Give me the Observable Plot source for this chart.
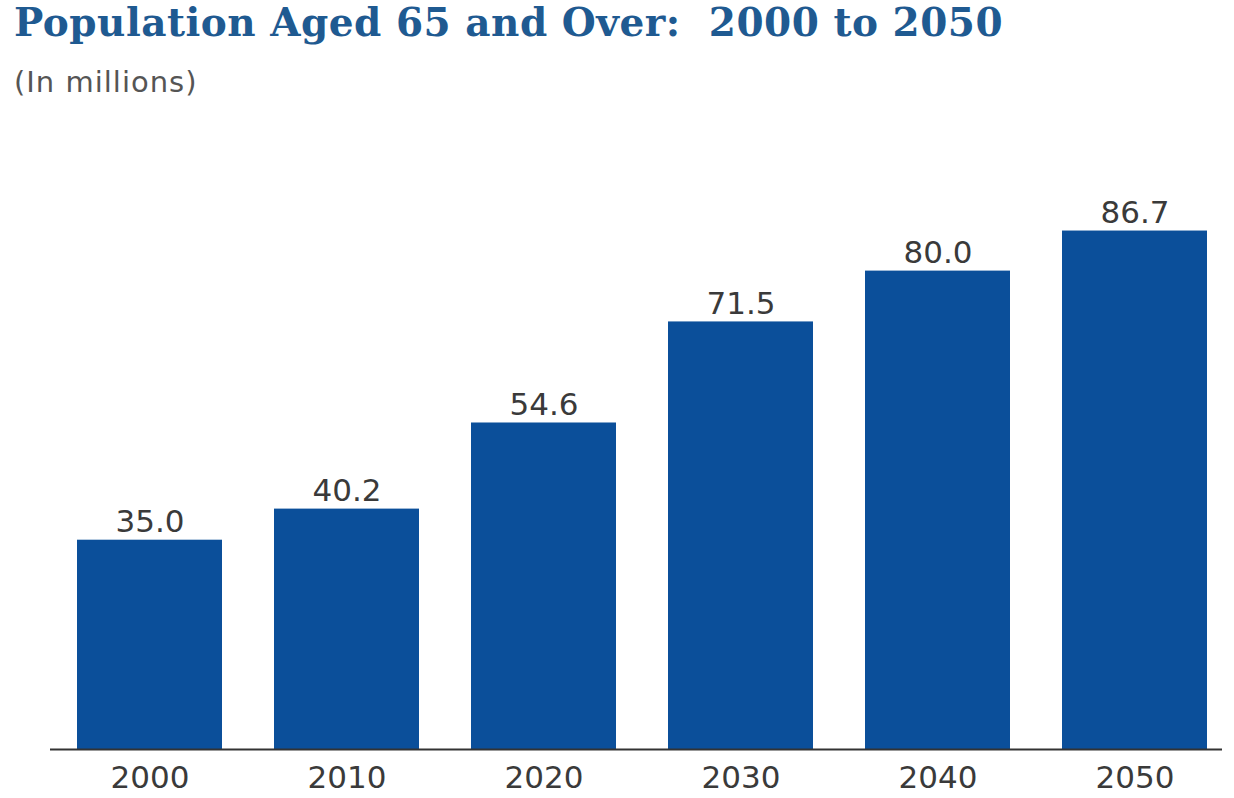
<!DOCTYPE html>
<html>
<head>
<meta charset="utf-8">
<script src="https://cdn.jsdelivr.net/npm/d3@7"></script>
<script src="https://cdn.jsdelivr.net/npm/@observablehq/plot@0.6"></script>
<style>
  html, body { margin: 0; padding: 0; background: #fff; width: 1234px; height: 798px; overflow: hidden; }
  #header { position: relative; height: 110px; }
  #title { position: absolute; left: 14px; top: 0px; font-family: "DejaVu Serif", serif; font-weight: bold; font-size: 39px; letter-spacing: 0.5px; color: #1f5a91; white-space: nowrap; line-height: 44px; }
  #subtitle { position: absolute; left: 14px; top: 65px; font-family: "DejaVu Sans", sans-serif; font-size: 29px; letter-spacing: 1px; color: #555; white-space: nowrap; line-height: 34px; }
</style>
</head>
<body>
<div id="header">
  <div id="title">Population Aged 65 and Over:&nbsp; 2000 to 2050</div>
  <div id="subtitle">(In millions)</div>
</div>
<div id="chart"></div>
<script>
const years = ["2000", "2010", "2020", "2030", "2040", "2050"];
const values = [35.0, 40.2, 54.6, 71.5, 80.0, 86.7];
const labels = ["35.0", "40.2", "54.6", "71.5", "80.0", "86.7"];

const data = years.map((y, i) => ({year: y, value: values[i], label: labels[i]}));

const chart = Plot.plot({
  width: 1234,
  height: 688,
  marginLeft: 75,
  marginRight: 26,
  marginTop: 41,
  marginBottom: 49,
  style: {fontFamily: "DejaVu Sans, sans-serif", fontSize: "31px", color: "#3a3a3a", background: "#fff"},
  x: {domain: years, paddingInner: 0.266, paddingOuter: 0, label: null},
  y: {domain: [0, 100], axis: null},
  marks: [
    Plot.barY(data, {x: "year", y: "value", fill: "#0b4f9a"}),
    Plot.text(data, {x: "year", y: "value", text: "label", dy: -8, lineAnchor: "bottom", fill: "#3a3a3a", fontSize: 31}),
    Plot.ruleY([0], {stroke: "#333", strokeWidth: 2, insetLeft: -25, insetRight: -14}),
    Plot.axisX({tickSize: 0, tickPadding: 16, fontSize: 31, fill: "#3a3a3a", label: null})
  ]
});
document.getElementById("chart").appendChild(chart);
</script>
</body>
</html>
